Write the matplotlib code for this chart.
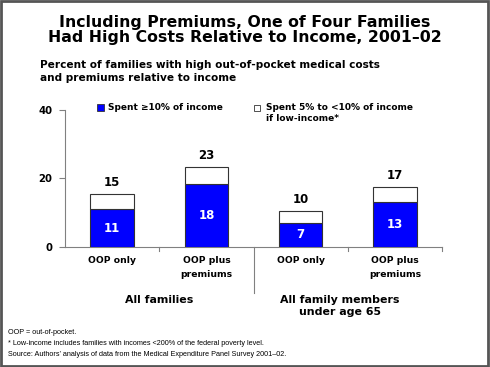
import matplotlib
matplotlib.use("Agg")
import matplotlib.pyplot as plt
from matplotlib.patches import Rectangle
import matplotlib.transforms as mtransforms

# data
categories = ["OOP only", "OOP plus\npremiums", "OOP only", "OOP plus\npremiums"]
high_share = [10.9, 18.3, 7.0, 13.1]      # spent >=10% of income
total_share = [15.4, 23.2, 10.4, 17.4]    # incl. 5% to <10% if low-income
high_labels = ["11", "18", "7", "13"]
total_labels = ["15", "23", "10", "17"]
groups = ["All families", "All family members\nunder age 65"]
yticks = [0, 20, 40]

W, H = 490, 367
fig = plt.figure(figsize=(W / 100, H / 100), dpi=100)


def fx(px):
    return px / W


def fy(py):
    return 1 - py / H


bold = dict(family="DejaVu Sans", fontweight="bold", color="black")

# frame around the slide
fig.patches.append(Rectangle((fx(1), fy(366)), fx(487), 365 / H, transform=fig.transFigure,
                             fill=False, edgecolor="#555555", linewidth=2.0))

fig.text(0.5, fy(30), "Including Premiums, One of Four Families\nHad High Costs Relative to Income, 2001\u201302",
         ha="center", va="center", fontsize=11.3, linespacing=1.05, **bold)
fig.text(fx(40), fy(71.5), "Percent of families with high out-of-pocket medical costs\nand premiums relative to income",
         ha="left", va="center", fontsize=7.6, linespacing=1.35, **bold)

ax = fig.add_axes([fx(65), fy(246.7), fx(442 - 65), (246.7 - 110) / H])
x = range(len(categories))
low_part = [t - h for t, h in zip(total_share, high_share)]
ax.bar(x, high_share, width=0.46, color="#0000FF", edgecolor="#333333", linewidth=0.8, zorder=3)
ax.bar(x, low_part, bottom=high_share, width=0.46, color="white", edgecolor="#333333",
       linewidth=0.8, zorder=3)

for i in x:
    ax.text(i, high_share[i] / 2, high_labels[i], ha="center", va="center", fontsize=8.5,
            **{**bold, "color": "white"})
    ax.text(i, total_share[i] + 1.5, total_labels[i], ha="center", va="bottom", fontsize=8.5, **bold)

ax.set_xlim(-0.5, 3.5)
ax.set_ylim(0, 40)
ax.set_yticks(yticks)
ax.set_yticklabels([str(t) for t in yticks], fontsize=7.3, **bold)
ax.set_xticks([])
for s in ["top", "right"]:
    ax.spines[s].set_visible(False)
for s in ["left", "bottom"]:
    ax.spines[s].set_color("#808080")
    ax.spines[s].set_linewidth(0.8)
ax.tick_params(axis="y", length=4, color="#808080", pad=5)

# category dividers below the x axis
trans = mtransforms.blended_transform_factory(ax.transData, ax.transAxes)
for xd in [0.5, 2.5, 3.5]:
    ax.plot([xd, xd], [0, -0.03], transform=trans, color="#808080", lw=0.8, clip_on=False)
ax.plot([1.5, 1.5], [0, -(293 - 246.7) / 136.7], transform=trans, color="#808080", lw=0.8,
        clip_on=False)

for i, lab in enumerate(categories):
    ax.text(i, -(256 - 246.7) / 136.7, lab, transform=trans, ha="center", va="top", fontsize=6.7,
            linespacing=1.75, **bold)
for j, g in enumerate(groups):
    ax.text(0.5 + 2 * j - 0.08 * j, -(295 - 246.7) / 136.7, g, transform=trans, ha="center",
            va="top", fontsize=7.9, linespacing=1.2, **bold)

# legend drawn by hand to follow the slide layout
fig.patches.append(Rectangle((fx(97), fy(111)), fx(7), 7 / H, transform=fig.transFigure,
                             facecolor="#0000FF", edgecolor="#333333", linewidth=0.6))
fig.text(fx(108), fy(107.5), "Spent \u226510% of income", ha="left", va="center", fontsize=6.5, **bold)
fig.patches.append(Rectangle((fx(254), fy(111)), fx(6), 6 / H, transform=fig.transFigure,
                             facecolor="white", edgecolor="#333333", linewidth=0.6))
fig.text(fx(266), fy(113), "Spent 5% to <10% of income\nif low-income*", ha="left", va="center",
         fontsize=6.5, linespacing=1.15, **bold)

foot = ("OOP = out-of-pocket.\n"
        "* Low-income includes families with incomes <200% of the federal poverty level.\n"
        "Source: Authors\u2019 analysis of data from the Medical Expenditure Panel Survey 2001\u201302.")
fig.text(fx(8), fy(343.5), foot, ha="left", va="center", fontsize=5.2, family="Liberation Sans",
         linespacing=1.7)

fig.savefig("out.png", dpi=100)
